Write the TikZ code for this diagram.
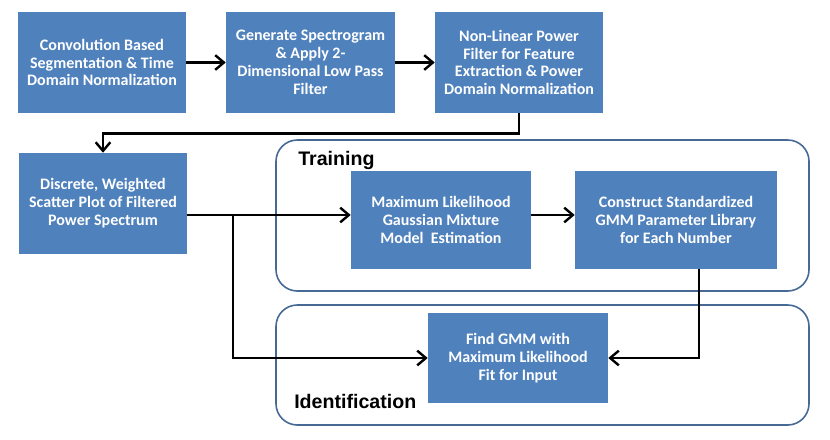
\documentclass[tikz,border=0pt]{standalone}
\usepackage{fontspec}
\setmainfont{Carlito}
\newfontfamily\labfont{Liberation Sans}
\usetikzlibrary{arrows.meta}
\definecolor{boxblue}{HTML}{4F81BD}
\definecolor{grpline}{RGB}{70,105,150}
\tikzset{
  bx/.style 2 args={rectangle, fill=boxblue, draw=none, inner sep=0pt,
    minimum width=#1*0.75pt, minimum height=#2*0.75pt, text=white,
    align=center, font=\bfseries\fontsize{12}{13.4}\selectfont},
  arr/.style={draw=black, line width=2pt, -{Straight Barb[length=6.5pt,width=11pt,line width=1.8pt]}},
  grp/.style={draw=grpline, line width=1.2pt, rounded corners=16pt},
  lab/.style={anchor=base west, inner sep=0pt, font=\labfont\bfseries\fontsize{14.7}{16}\selectfont}
}
\begin{document}
\begin{tikzpicture}[x=0.75pt,y=-0.75pt]
\useasboundingbox (0,0) rectangle (830,439);
\draw[grp] (276,140) rectangle (809,291);
\draw[grp] (276,305) rectangle (809,425);
\node[lab] (ltrain) at (298,165) {Training};
\node[lab] (lident) at (294,408) {Identification};
\node[bx={168}{101}] (b1) at (102,62.5) {Convolution Based\\Segmentation \& Time\\Domain Normalization};
\node[bx={169}{101}] (b2) at (310.5,62.5) {Generate Spectrogram\\\& Apply 2-\\Dimensional Low Pass\\Filter};
\node[bx={168}{101}] (b3) at (519,62.5) {Non-Linear Power\\Filter for Feature\\Extraction \& Power\\Domain Normalization};
\node[bx={168}{101}] (b4) at (103,203.5) {Discrete, Weighted\\Scatter Plot of Filtered\\Power Spectrum};
\node[bx={180}{98}] (b5) at (441,220) {Maximum Likelihood\\Gaussian Mixture\\Model\ \ Estimation};
\node[bx={202}{98}] (b6) at (676,220) {Construct Standardized\\GMM Parameter Library\\for Each Number};
\node[bx={180}{90}] (b7) at (518,358) {Find GMM with\\Maximum Likelihood\\Fit for Input};
\coordinate (j) at (233,215);
\coordinate (k) at (699,269);
\draw[arr] (b1) -- (b2);
\draw[arr] (b2) -- (b3);
\draw[arr] (b3.south) -- ++(0,20) -| (b4.north);
\draw[arr] (b4.east |- j) -- (b5.west |- j);
\draw[arr] (b5.east |- j) -- (b6.west |- j);
\draw[arr] (j) |- (b7.west);
\draw[arr] (k) |- (b7.east);
\end{tikzpicture}
\end{document}
